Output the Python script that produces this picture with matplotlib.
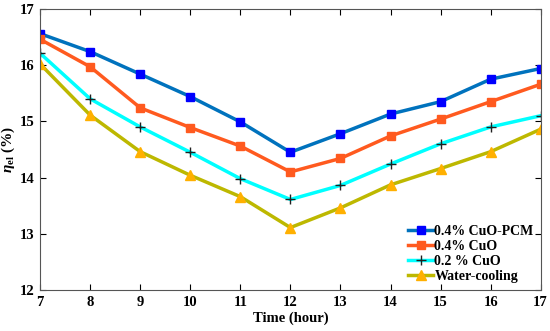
import matplotlib
matplotlib.use('Agg')
from matplotlib import pyplot as plt

hours = [7, 8, 9, 10, 11, 12, 13, 14, 15, 16, 17]
cuo_pcm = [16.56, 16.24, 15.84, 15.44, 14.99, 14.45, 14.78, 15.13, 15.35, 15.75, 15.94]
cuo_04 = [16.46, 15.97, 15.24, 14.89, 14.56, 14.10, 14.34, 14.74, 15.04, 15.35, 15.66]
cuo_02 = [16.21, 15.40, 14.90, 14.45, 13.98, 13.61, 13.86, 14.24, 14.60, 14.90, 15.10]
water = [16.02, 15.11, 14.46, 14.04, 13.66, 13.11, 13.46, 13.87, 14.16, 14.46, 14.86]

plt.rcParams['font.family'] = ['Liberation Serif', 'DejaVu Serif']
plt.rcParams['font.weight'] = 'bold'
plt.rcParams['mathtext.fontset'] = 'custom'
plt.rcParams['mathtext.rm'] = 'Liberation Serif:bold'
plt.rcParams['mathtext.it'] = 'Liberation Serif:italic'
plt.rcParams['mathtext.bf'] = 'Liberation Serif:bold'

fig = plt.figure(figsize=(5.5, 3.31), dpi=100)
ax = fig.add_axes([0.073, 0.124, 0.91, 0.849])

ax.plot(hours, cuo_pcm, color='#0072BD', lw=2.5, marker='s', ms=5.5,
        mfc='#0000FF', mec='#0000FF', label='0.4% CuO-PCM')
ax.plot(hours, cuo_04, color='#FF5A1F', lw=2.5, marker='s', ms=5.5,
        mfc='#FF5A1F', mec='#FF5A1F', label='0.4% CuO')
ax.plot(hours, cuo_02, color='#00FFFF', lw=2.5, marker='+', ms=7,
        mec='#202020', mew=1.0, label='0.2 % CuO')
ax.plot(hours, water, color='#BDB800', lw=2.5, marker='^', ms=6.5,
        mfc='#FFB000', mec='#FFB000', label='Water-cooling')

ax.set_xlim(7, 17)
ax.set_ylim(12, 17)
ax.set_xticks(hours)
ax.set_yticks([12, 13, 14, 15, 16, 17])
ax.tick_params(direction='in', top=True, right=True, labelsize=10.5, length=4, pad=4)
for lab in ax.get_xticklabels() + ax.get_yticklabels():
    lab.set_fontweight('bold')
for s in ax.spines.values():
    s.set_color('#555555')
    s.set_linewidth(0.8)

ax.set_xlabel('Time (hour)', fontsize=10.5, fontweight='bold', labelpad=2)
ax.set_ylabel(r'$\eta_{\mathbf{el}}$ (%)', fontsize=11, fontweight='bold', labelpad=2)

leg = ax.legend(loc='lower right', frameon=False, fontsize=10, handlelength=1.8,
                handletextpad=0.1, labelspacing=0.15, borderaxespad=0.1,
                bbox_to_anchor=(1.0, 0.0))
for t in leg.get_texts():
    t.set_fontweight('bold')

plt.savefig('out.png', dpi=100)
